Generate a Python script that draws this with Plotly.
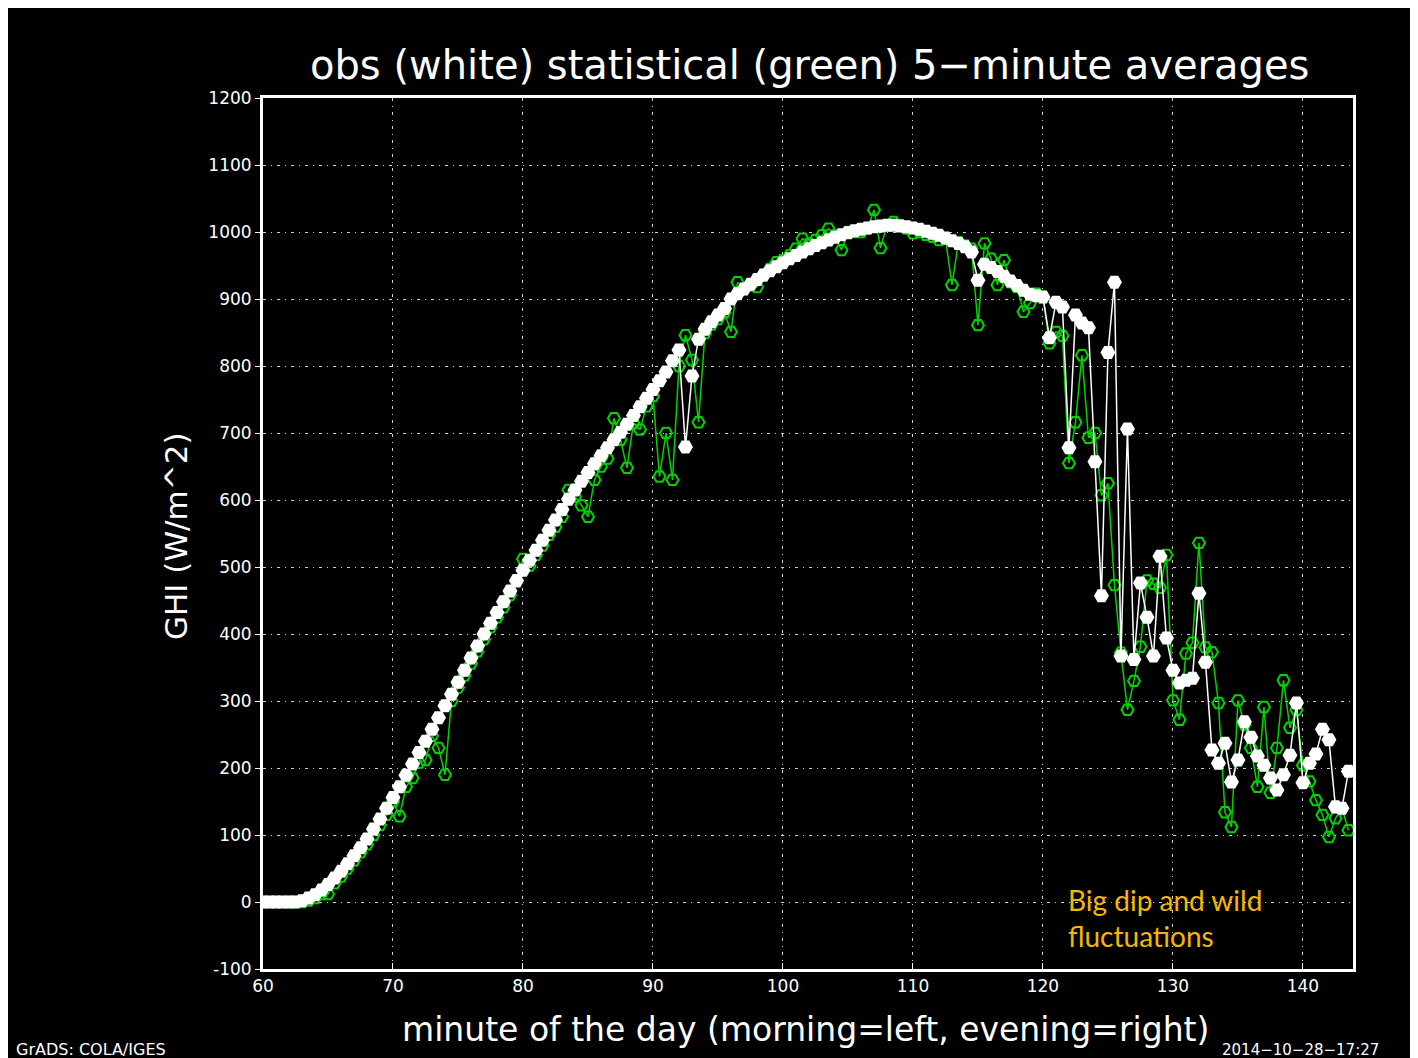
import plotly.graph_objects as go

# x: minute of the day, sampled every half unit from 60 to 143.5
x_start = 60.0
x_step = 0.5

obs_white = [
    0, 0, 0, 0, 0, 0,
    2, 6, 11, 18, 26, 36, 46, 57, 69, 81,
    94, 109, 124, 140, 156, 172, 189, 206, 223, 240,
    258, 275, 293, 310, 328, 346, 364, 382, 400, 416,
    432, 448, 464, 480, 495, 510, 525, 540, 555, 570,
    586, 601, 615, 628, 641, 654, 666, 678, 690, 701,
    713, 726, 739, 752, 765, 778, 791, 808, 824, 679,
    785, 840, 855, 866, 876, 886, 900, 908, 915, 922,
    929, 936, 942, 948, 954, 960, 965, 970, 975, 980,
    984, 988, 992, 996, 999, 1002, 1004, 1006, 1008, 1009,
    1010, 1010, 1009, 1008, 1006, 1004, 1001, 998, 995, 991,
    987, 983, 978, 970, 928, 952, 947, 941, 934, 927,
    920, 913, 907, 905, 903, 842, 895, 888, 678, 876,
    864, 857, 657, 457, 820, 925, 367, 706, 362, 476,
    425, 367, 516, 394, 346, 327, 331, 334, 461, 358,
    227, 207, 237, 179, 212, 269, 246, 218, 204, 185,
    167, 190, 219, 297, 178, 207, 221, 258, 242, 142,
    140, 195,
]

stat_green = [
    0, 0, 0, 0, 0, 0,
    0, 2, 6, 12, 12, 28, 38, 50, 62, 74,
    86, 100, 115, 130, 150, 128, 172, 185, 208, 212,
    248, 230, 190, 300, 320, 338, 356, 374, 392, 410,
    425, 440, 458, 478, 512, 502, 518, 532, 548, 560,
    575, 615, 605, 592, 575, 630, 650, 662, 722, 690,
    648, 715, 705, 740, 755, 635, 700, 630, 800, 846,
    809, 716, 849, 862, 870, 880, 851, 925, 915, 920,
    918, 935, 945, 955, 958, 965, 975, 990, 982, 988,
    995, 1005, 995, 973, 1000, 1000, 1000, 1005, 1033, 976,
    1010, 1015, 1010, 1005, 998, 1000, 996, 993, 988, 990,
    921, 985, 980, 975, 861, 983, 960, 921, 958, 925,
    918, 881, 894, 908, 903, 834, 851, 845, 655, 716,
    816, 693, 700, 607, 625, 473, 372, 287, 330, 381,
    480, 475, 469, 518, 301, 272, 371, 387, 536, 380,
    373, 297, 134, 112, 301, 265, 230, 172, 291, 163,
    230, 331, 260, 287, 204, 180, 152, 130, 97, 125,
    140, 107,
]

minutes = [x_start + x_step * i for i in range(len(obs_white))]

x_ticks = [60, 70, 80, 90, 100, 110, 120, 130, 140]
y_ticks = [-100, 0, 100, 200, 300, 400, 500, 600, 700, 800, 900, 1000, 1100, 1200]

GREEN = "#00d400"

fig = go.Figure()
fig.add_trace(go.Scatter(
    x=minutes, y=stat_green, mode="lines+markers",
    line=dict(color=GREEN, width=1.5),
    marker=dict(symbol="hexagon2-open", size=12, color=GREEN, line=dict(width=2, color=GREEN)),
    showlegend=False, hoverinfo="skip",
))
fig.add_trace(go.Scatter(
    x=minutes, y=obs_white, mode="lines+markers",
    line=dict(color="white", width=1.5),
    marker=dict(symbol="hexagon2", size=15, color="white", line=dict(width=0)),
    showlegend=False, hoverinfo="skip",
))

# the page body has an 8px margin; figure pixel = reference pixel - 8
OFF = 8
W, H = 1410 - OFF, 1058 - OFF
L, R, T, B = 263 - OFF, 1353 - OFF, 98 - OFF, 969 - OFF

def px_x(p):
    return (p - OFF - L) / (R - L)

def px_y(p):
    return (B - (p - OFF)) / (B - T)

tickfont = dict(family="DejaVu Sans", size=17, color="white")
grid = dict(showgrid=True, gridcolor="#d0d0d0", gridwidth=1, griddash="3px,5px,1px,5px")

fig.update_xaxes(range=[60, 143.85], tickvals=x_ticks, ticktext=[str(v) for v in x_ticks],
                 ticks="inside", ticklen=6, tickcolor="white", tickfont=tickfont,
                 showline=True, linecolor="white", linewidth=3, mirror=True,
                 zeroline=False, **grid)
fig.update_yaxes(range=[-100, 1200], tickvals=y_ticks, ticktext=[str(v) for v in y_ticks],
                 ticks="outside", ticklen=5, tickcolor="white", tickfont=tickfont,
                 showline=True, linecolor="white", linewidth=3, mirror=True,
                 zeroline=False, **grid)

def label(text, x, y, size, xanchor="center", angle=0, color="white", family="DejaVu Sans", align="center"):
    fig.add_annotation(text=text, xref="paper", yref="paper", x=px_x(x), y=px_y(y),
                       xanchor=xanchor, yanchor="middle", textangle=angle, align=align,
                       showarrow=False, font=dict(family=family, size=size, color=color))

label("obs (white) statistical (green) 5\u2212minute averages", 809, 65, 40)
label("GHI (W/m^2)", 176, 536, 31, angle=-90)
label("minute of the day (morning=left, evening=right)", 805, 1029, 33)
label("GrADS: COLA/IGES", 14, 1049, 16, xanchor="left")
label("2014\u221210\u221228\u221217:27", 1381, 1050, 15, xanchor="right")
label("Big dip and wild<br>fluctuations", 1066, 918, 28, xanchor="left",
      color="#f5b800", family="Lato, Open Sans", align="left")

fig.update_layout(width=W, height=H, autosize=False,
                  margin=dict(l=L, r=W - R, t=T, b=H - B),
                  paper_bgcolor="black", plot_bgcolor="black")

fig.write_html("out.html")
